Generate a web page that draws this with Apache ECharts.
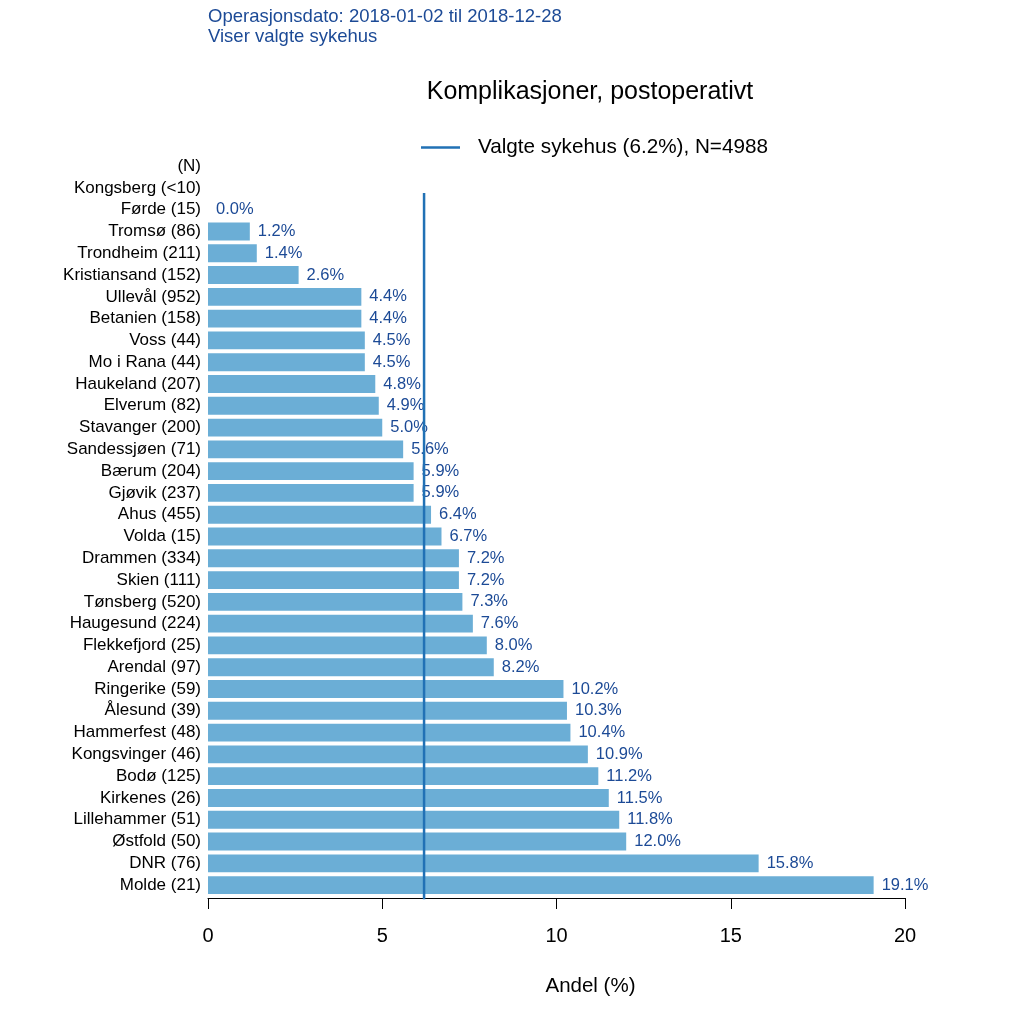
<!DOCTYPE html>
<html><head><meta charset="utf-8">
<script src="https://cdn.jsdelivr.net/npm/echarts@6/dist/echarts.min.js"></script>
<style>html,body{margin:0;padding:0;background:#fff}#c{width:1024px;height:1024px}</style>
</head><body><div id="c"></div>
<script>
const categories = ["Kongsberg (<10)","Førde (15)","Tromsø (86)","Trondheim (211)","Kristiansand (152)","Ullevål (952)","Betanien (158)","Voss (44)","Mo i Rana (44)","Haukeland (207)","Elverum (82)","Stavanger (200)","Sandessjøen (71)","Bærum (204)","Gjøvik (237)","Ahus (455)","Volda (15)","Drammen (334)","Skien (111)","Tønsberg (520)","Haugesund (224)","Flekkefjord (25)","Arendal (97)","Ringerike (59)","Ålesund (39)","Hammerfest (48)","Kongsvinger (46)","Bodø (125)","Kirkenes (26)","Lillehammer (51)","Østfold (50)","DNR (76)","Molde (21)"];
const values = [null,0.0,1.2,1.4,2.6,4.4,4.4,4.5,4.5,4.8,4.9,5.0,5.6,5.9,5.9,6.4,6.7,7.2,7.2,7.3,7.6,8.0,8.2,10.2,10.3,10.4,10.9,11.2,11.5,11.8,12.0,15.8,19.1];
const refValue = 6.2;
const refName = "Valgte sykehus (6.2%), N=4988";
const xTicks = [0,5,10,15,20];
const titleText = "Komplikasjoner, postoperativt";
const subLines = ["Operasjonsdato: 2018-01-02 til 2018-12-28","Viser valgte sykehus"];
const nHeader = "(N)";

const FONT = "Liberation Sans";
const BLUE_TXT = "#1c4a96";
const nCat = categories.length;
// reference line spans from just below the first row down to the x axis (in row units)
const refLineSpan = [0.73, nCat + 0.15];

const chart = echarts.init(document.getElementById('c'));
chart.setOption({
  animation: false,
  backgroundColor: '#fff',
  textStyle: {fontFamily: FONT},
  title: [
    {text: titleText, left: 585, top: 75, textAlign: 'center',
     textStyle: {fontFamily: FONT, fontSize: 25, fontWeight: 'normal', color: '#000'}},
    {text: subLines.join('\n'), left: 203, top: 2,
     textStyle: {fontFamily: FONT, fontSize: 18.5, fontWeight: 'normal', color: BLUE_TXT, lineHeight: 20}}
  ],
  legend: {
    data: [refName], left: 416, top: 132, icon: 'rect', itemWidth: 39, itemHeight: 2.5, itemGap: 10,
    textStyle: {fontFamily: FONT, fontSize: 20.7, color: '#000', padding: [0,0,0,13]}
  },
  graphic: [{type: 'text', right: 1024 - 201, top: 158,
    style: {text: nHeader, font: '17px "Liberation Sans"', fill: '#000', align: 'right'}}],
  grid: {left: 208, right: 1024 - 905, top: 177, bottom: 1024 - 896, containLabel: false},
  xAxis: {
    type: 'value', min: 0, max: 20, interval: 5, offset: 2,
    axisLine: {show: true, onZero: false, lineStyle: {color: '#000', width: 1}},
    axisTick: {show: true, length: 11, lineStyle: {color: '#000'}},
    axisLabel: {fontFamily: FONT, fontSize: 20, color: '#000', margin: 28,
      customValues: xTicks},
    splitLine: {show: false},
    name: 'Andel (%)', nameLocation: 'middle', nameGap: 78,
    nameTextStyle: {fontFamily: FONT, fontSize: 20.5, color: '#000', padding: [0,0,0,68]}
  },
  yAxis: [
    {
      type: 'category', data: categories, inverse: true,
      axisLine: {show: false}, axisTick: {show: false},
      axisLabel: {interval: 0, fontFamily: FONT, fontSize: 17, color: '#000', margin: 7}
    },
    {
      type: 'value', min: 0, max: nCat, inverse: true, show: false
    }
  ],
  series: [
    {
      type: 'bar', data: values, barCategoryGap: '18%', itemStyle: {color: '#6baed6'},
      label: {show: true, position: 'right', distance: 8, fontFamily: FONT, fontSize: 16.5, color: BLUE_TXT,
        formatter: p => p.value == null ? '' : p.value.toFixed(1) + '%'},
      z: 2
    },
    {
      name: refName, type: 'line', yAxisIndex: 1, clip: false, showSymbol: false, symbol: 'none',
      data: [[refValue, refLineSpan[0]], [refValue, refLineSpan[1]]],
      color: '#2171b5', lineStyle: {color: '#2171b5', width: 2.5}, z: 5, silent: true
    }
  ]
});
</script></body></html>
